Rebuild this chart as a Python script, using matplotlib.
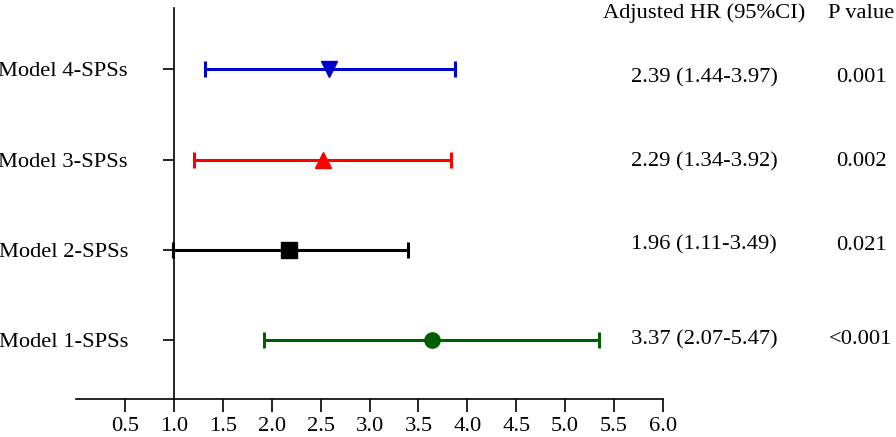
import matplotlib
matplotlib.use('Agg')
import matplotlib.pyplot as plt

plt.rcParams['font.family'] = ['Liberation Serif', 'DejaVu Serif']

# data (bottom row first)
models = ['Model 1-SPSs', 'Model 2-SPSs', 'Model 3-SPSs', 'Model 4-SPSs']
hr_point = [3.64, 2.18, 2.52, 2.59]
ci_low = [1.92, 0.99, 1.21, 1.32]
ci_high = [5.35, 3.39, 3.83, 3.87]
hr_text = ['3.37 (2.07-5.47)', '1.96 (1.11-3.49)', '2.29 (1.34-3.92)', '2.39 (1.44-3.97)']
p_text = ['<0.001', '0.021', '0.002', '0.001']
x_ticks = [0.5, 1.0, 1.5, 2.0, 2.5, 3.0, 3.5, 4.0, 4.5, 5.0, 5.5, 6.0]

colors = ['#006000', 'black', '#ff0000', '#0000cc']
markers = ['o', 's', '^', 'v']
FS = 16.2

W, H = 896, 437
fig = plt.figure(figsize=(W / 100, H / 100), dpi=100)
ax = fig.add_axes([76 / W, 1 - 399 / H, (663 - 76) / W, (399 - 8) / H])

rows = list(range(1, len(models) + 1))
for i, y in enumerate(rows):
    ax.errorbar(hr_point[i], y, xerr=[[hr_point[i] - ci_low[i]], [ci_high[i] - hr_point[i]]],
                fmt=markers[i], color=colors[i], ecolor=colors[i], elinewidth=2.2,
                capsize=5.5, capthick=2.2, markersize=11, clip_on=False)

ax.set_xlim(0, 6)
ax.set_ylim(0.35, 4.68)
ax.set_xticks(x_ticks)
ax.set_xticklabels(['%.1f' % t for t in x_ticks])
ax.set_yticks(rows)
ax.set_yticklabels(models)

ax.spines['top'].set_visible(False)
ax.spines['right'].set_visible(False)
ax.spines['left'].set_position(('data', 1.0))
for s in ['left', 'bottom']:
    ax.spines[s].set_linewidth(1.2)
ax.tick_params(axis='x', direction='out', length=9, width=1.2, labelsize=FS, pad=4)
ax.tick_params(axis='y', direction='out', length=8, width=1.2, labelsize=FS, pad=25)

# table on the right
fig.text(704 / W, 1 - 13 / H, 'Adjusted HR (95%CI)', ha='center', va='center', fontsize=FS)
fig.text(861 / W, 1 - 13 / H, 'P value', ha='center', va='center', fontsize=FS)
text_y = [339.5, 245, 161.5, 77.5]
for i in range(len(models)):
    fig.text(704 / W, 1 - text_y[i] / H, hr_text[i], ha='center', va='center', fontsize=FS)
    fig.text(861 / W, 1 - text_y[i] / H, p_text[i], ha='center', va='center', fontsize=FS)

fig.savefig('out.png', dpi=100)
